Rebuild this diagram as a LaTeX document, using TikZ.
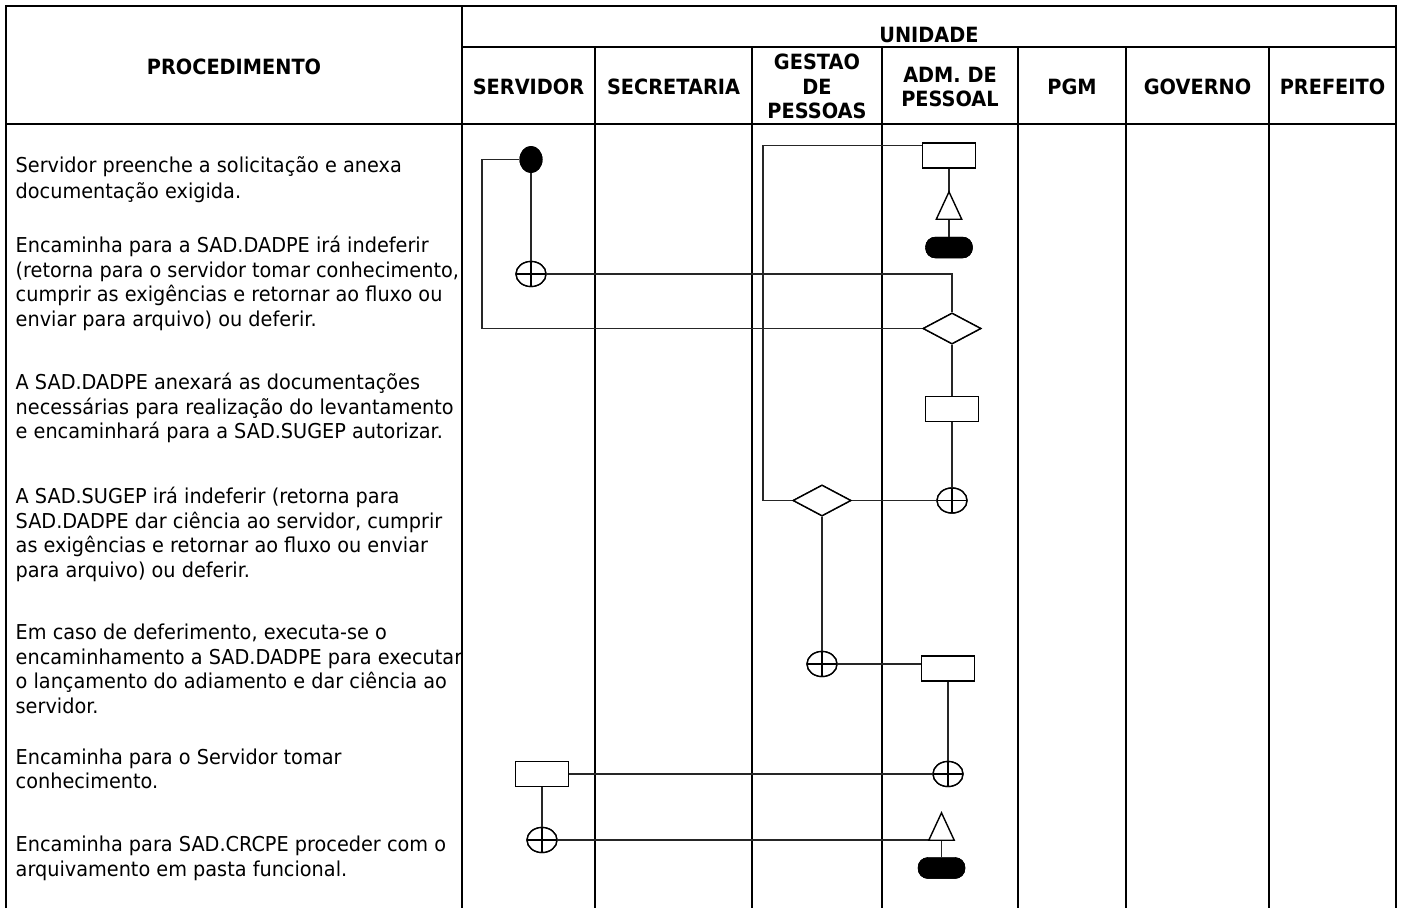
\documentclass[tikz,border=0pt]{standalone}
\usepackage{fontspec}
\setmainfont{DejaVu Sans}
\newfontfamily\hdrfont{DejaVu Sans}[FakeStretch=0.92]
\newfontfamily\bodyfont{DejaVu Sans}[FakeStretch=0.94]
\usetikzlibrary{shapes.geometric}
\begin{document}
\begin{tikzpicture}[x=1pt,y=-1pt,
  tbl/.style={line width=2.2pt,black,line join=miter},
  conn/.style={line width=1.5pt,black!85},
  shp/.style={draw=black,line width=1.4pt,fill=white,inner sep=0pt},
  boxn/.style={shp,rectangle,minimum width=53pt,minimum height=25pt},
  cplus/.style={shp,ellipse,minimum width=30pt,minimum height=25pt,
    path picture={\draw[line width=1.4pt] (path picture bounding box.west) -- (path picture bounding box.east)
      (path picture bounding box.north) -- (path picture bounding box.south);}},
  dia/.style={shp,diamond,minimum width=58pt,minimum height=31pt},
  term/.style={rectangle,rounded corners=10pt,fill=black,draw=black,minimum width=47pt,minimum height=21pt,inner sep=0pt},
  startn/.style={ellipse,fill=black,minimum width=23pt,minimum height=27pt,inner sep=0pt},
  trin/.style={rectangle,inner sep=0pt,minimum width=25pt,minimum height=27pt},
  tridraw/.style={draw=black,line width=1.4pt,fill=white,line join=miter},
  body/.style={anchor=base west,inner sep=0pt,font=\bodyfont\fontsize{20.5}{24}\selectfont},
  hdr/.style={anchor=base,inner sep=0pt,font=\hdrfont\bfseries\fontsize{21}{24}\selectfont}]
\useasboundingbox (0,0) rectangle (1403,908);
% table
\draw[tbl] (6,908) -- (6,6) -- (1396,6) -- (1396,908);
\draw[tbl] (6,124) -- (1396,124);
\draw[tbl] (462,47) -- (1396,47);
\draw[tbl] (462,6) -- (462,908);
\foreach \cx in {595,752,882,1018,1126,1269} \draw[tbl] (\cx,47) -- (\cx,908);
% header
\node[hdr] (hproc) at (234,74) {PROCEDIMENTO};
\node[hdr] (hunid) at (929,42.5) {UNIDADE};
\node[hdr] (hserv) at (528.5,94.5) {SERVIDOR};
\node[hdr] (hsec) at (673.5,94.5) {SECRETARIA};
\node[hdr] (hges1) at (817,69.5) {GESTAO};
\node[hdr] (hges2) at (817,94.5) {DE};
\node[hdr] (hges3) at (817,118.5) {PESSOAS};
\node[hdr] (hadm1) at (950,82.5) {ADM. DE};
\node[hdr] (hadm2) at (950,106.5) {PESSOAL};
\node[hdr] (hpgm) at (1072,94.5) {PGM};
\node[hdr] (hgov) at (1197.5,94.5) {GOVERNO};
\node[hdr] (hpref) at (1332.5,94.5) {PREFEITO};
% body text
\node[body] (p1a) at (15.5,172.5) {Servidor preenche a solicitação e anexa};
\node[body] (p1b) at (15.5,198) {documentação exigida.};
\node[body] (p2a) at (15.5,252) {Encaminha para a SAD.DADPE irá indeferir};
\node[body] (p2b) at (15.5,277) {(retorna para o servidor tomar conhecimento,};
\node[body] (p2c) at (15.5,301.5) {cumprir as exigências e retornar ao fluxo ou};
\node[body] (p2d) at (15.5,326) {enviar para arquivo) ou deferir.};
\node[body] (p3a) at (15.5,389) {A SAD.DADPE anexará as documentações};
\node[body] (p3b) at (15.5,414) {necessárias para realização do levantamento};
\node[body] (p3c) at (15.5,438.5) {e encaminhará para a SAD.SUGEP autorizar.};
\node[body] (p4a) at (15.5,503) {A SAD.SUGEP irá indeferir (retorna para};
\node[body] (p4b) at (15.5,528) {SAD.DADPE dar ciência ao servidor, cumprir};
\node[body] (p4c) at (15.5,552.5) {as exigências e retornar ao fluxo ou enviar};
\node[body] (p4d) at (15.5,577) {para arquivo) ou deferir.};
\node[body] (p5a) at (15.5,639) {Em caso de deferimento, executa-se o};
\node[body] (p5b) at (15.5,664) {encaminhamento a SAD.DADPE para executar};
\node[body] (p5c) at (15.5,688.5) {o lançamento do adiamento e dar ciência ao};
\node[body] (p5d) at (15.5,713) {servidor.};
\node[body] (p6a) at (15.5,764) {Encaminha para o Servidor tomar};
\node[body] (p6b) at (15.5,788.5) {conhecimento.};
\node[body] (p7a) at (15.5,851) {Encaminha para SAD.CRCPE proceder com o};
\node[body] (p7b) at (15.5,876) {arquivamento em pasta funcional.};
% shapes
\node[startn] (s1) at (531,159.5) {};
\node[cplus] (c1) at (531,274) {};
\node[boxn] (r1) at (949,155.5) {};
\node[trin] (tri1) at (949,205.5) {};
\node[term] (t1) at (949,247.5) {};
\node[dia] (d1) at (952,328.5) {};
\node[boxn] (r2) at (952,409) {};
\node[cplus] (c2) at (952,500.5) {};
\node[dia] (d2) at (822,500.5) {};
\node[cplus] (c3) at (822,664) {};
\node[boxn] (r3) at (948,668.5) {};
\node[cplus] (c4) at (948,774) {};
\node[boxn] (r4) at (542,774) {};
\node[cplus] (c5) at (542,840) {};
\node[trin] (tri2) at (941.5,826.5) {};
\node[term] (t2) at (941.5,868) {};
\coordinate (lp) at (482,0);
\coordinate (gx) at (763,0);
% connectors
\draw[conn] (s1.west) -- (s1.west -| lp) |- (d1.west);
\draw[conn] (s1.south) -- (c1.north);
\draw[conn] (c1.east) -| (d1.north);
\draw[conn] ([yshift=-3pt]r1.north west) -- ([yshift=-3pt]r1.north west -| gx) |- (d2.west);
\draw[conn] (r1.south) -- (tri1.north);
\draw[conn] (tri1.south) -- (t1.north);
\draw[conn] (d1.south) -- (r2.north);
\draw[conn] (r2.south) -- (c2.north);
\draw[conn] (d2.east) -- (c2.west);
\draw[conn] (d2.south) -- (c3.north);
\draw[conn] (c3.east) -- (c3.east -| r3.west);
\draw[conn] (r3.south) -- (c4.north);
\draw[conn] (r4.east) -- (c4.west);
\draw[conn] (r4.south) -- (c5.north);
\draw[conn] (c5.east) -- (c5.east -| tri2.south west);
\draw[conn] (tri2.south) -- (t2.north);
% redraw shapes on top of connectors
\node[startn] at (s1) {};
\node[cplus] at (c1) {};
\node[boxn] at (r1) {};
\draw[tridraw] (tri1.north) -- (tri1.south east) -- (tri1.south west) -- cycle;
\node[term] at (t1) {};
\node[dia] at (d1) {};
\node[boxn] at (r2) {};
\node[cplus] at (c2) {};
\node[dia] at (d2) {};
\node[cplus] at (c3) {};
\node[boxn] at (r3) {};
\node[cplus] at (c4) {};
\node[boxn] at (r4) {};
\node[cplus] at (c5) {};
\draw[tridraw] (tri2.north) -- (tri2.south east) -- (tri2.south west) -- cycle;
\node[term] at (t2) {};
\end{tikzpicture}
\end{document}
